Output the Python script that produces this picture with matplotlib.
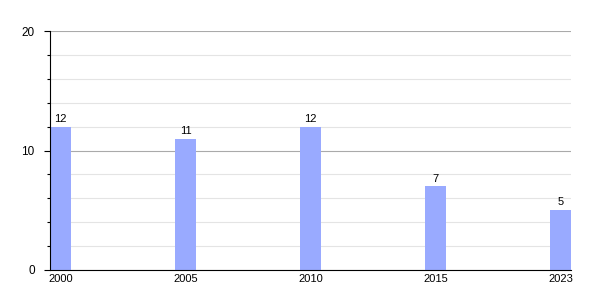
import matplotlib
matplotlib.use('Agg')
import matplotlib.pyplot as plt
from matplotlib.ticker import MultipleLocator

years = ['2000', '2005', '2010', '2015', '2023']
values = [12, 11, 12, 7, 5]

plt.rcParams['font.family'] = ['Liberation Sans', 'DejaVu Sans']

fig = plt.figure(figsize=(6, 3), dpi=100)
ax = fig.add_axes([50 / 600, 30 / 300, 521 / 600, 239 / 300])

w = 0.168
x = list(range(len(years)))
bars = ax.bar(x, values, width=w, align='edge', color='#99aaff', zorder=3)

# value labels above each bar
for b, v in zip(bars, values):
    ax.annotate(str(v), (b.get_x() + b.get_width() / 2, v), xytext=(0, 2),
                textcoords='offset points', ha='center', va='bottom', fontsize=8)

ax.set_xlim(0, len(years) - 1 + w)
ax.set_ylim(0, 20)
ax.set_xticks([i + w / 2 for i in x])
ax.set_xticklabels(years, fontsize=8)
ax.tick_params(axis='x', length=0, pad=3)

ax.yaxis.set_major_locator(MultipleLocator(10))
ax.yaxis.set_minor_locator(MultipleLocator(2))
ax.tick_params(axis='y', which='major', length=4, width=0.8, labelsize=8.5, pad=7)
ax.tick_params(axis='y', which='minor', length=2, width=0.8)
ax.grid(axis='y', which='major', color='#aaaaaa', linewidth=0.8, zorder=0)
ax.grid(axis='y', which='minor', color='#e4e4e4', linewidth=0.8, zorder=0)

ax.spines['right'].set_visible(False)
ax.spines['top'].set_visible(False)
ax.spines['left'].set_color('black')
ax.spines['bottom'].set_color('black')
ax.spines['left'].set_zorder(4)
ax.spines['bottom'].set_zorder(4)

fig.savefig('out.png', dpi=100)
